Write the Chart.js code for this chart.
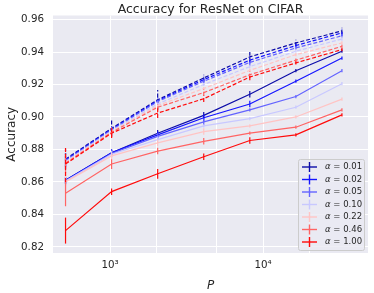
<!DOCTYPE html>
<html lang="en">
<head>
    <meta charset="UTF-8">
    <title>Accuracy for ResNet on CIFAR</title>
    <script src="https://cdn.jsdelivr.net/npm/chart.js"></script>
    <style>
        body { margin: 0; background: #ffffff; }
    </style>
</head>
<body>
    <canvas id="acc_chart" width="374" height="293"></canvas>
    <script>
        // training set sizes
        var P = [512, 1024, 2048, 4096, 8192, 16384, 32768];
        var alphas = ['0.01', '0.02', '0.05', '0.10', '0.22', '0.46', '1.00'];
        var yTicks = [0.82, 0.84, 0.86, 0.88, 0.90, 0.92, 0.94, 0.96];
        var xGrid = [1000, 2000, 5000, 10000, 20000];

        // solid curves, one row per alpha
        var accSolid = [
            [0.861, 0.878, 0.890, 0.901, 0.914, 0.9285, 0.9405],
            [0.861, 0.878, 0.889, 0.8995, 0.908, 0.922, 0.9363],
            [0.8605, 0.8775, 0.888, 0.897, 0.9044, 0.9126, 0.9285],
            [0.8605, 0.877, 0.886, 0.8945, 0.899, 0.906, 0.9205],
            [0.860, 0.876, 0.884, 0.891, 0.8945, 0.900, 0.911],
            [0.853, 0.871, 0.879, 0.885, 0.890, 0.8937, 0.9044],
            [0.830, 0.854, 0.865, 0.8755, 0.8855, 0.889, 0.9013]
        ];
        var errSolid = [
            [0.002, 0.002, 0.002, 0.002, 0.002, 0.001, 0.001],
            [0.002, 0.002, 0.002, 0.002, 0.002, 0.001, 0.001],
            [0.002, 0.002, 0.002, 0.002, 0.001, 0.001, 0.001],
            [0.003, 0.002, 0.002, 0.001, 0.001, 0.001, 0.001],
            [0.006, 0.002, 0.002, 0.002, 0.001, 0.001, 0.001],
            [0.008, 0.003, 0.002, 0.002, 0.001, 0.001, 0.001],
            [0.008, 0.002, 0.003, 0.002, 0.002, 0.001, 0.001]
        ];
        // dashed curves
        var accDashed = [
            [0.874, 0.893, 0.9106, 0.924, 0.937, 0.9456, 0.953],
            [0.8735, 0.8925, 0.910, 0.923, 0.935, 0.944, 0.9518],
            [0.873, 0.892, 0.9095, 0.922, 0.9336, 0.9425, 0.950],
            [0.8725, 0.8915, 0.908, 0.920, 0.931, 0.9405, 0.948],
            [0.872, 0.891, 0.907, 0.9175, 0.9287, 0.9384, 0.9456],
            [0.8715, 0.8905, 0.906, 0.915, 0.926, 0.935, 0.9435],
            [0.871, 0.890, 0.9024, 0.9112, 0.9246, 0.9333, 0.9415]
        ];
        var errDashed = [
            [0.006, 0.005, 0.006, 0.002, 0.003, 0.002, 0.002],
            [0.004, 0.002, 0.002, 0.002, 0.002, 0.001, 0.002],
            [0.003, 0.002, 0.002, 0.001, 0.002, 0.001, 0.001],
            [0.003, 0.002, 0.002, 0.001, 0.001, 0.001, 0.001],
            [0.004, 0.002, 0.002, 0.001, 0.001, 0.001, 0.001],
            [0.006, 0.003, 0.002, 0.002, 0.002, 0.001, 0.001],
            [0.011, 0.003, 0.003, 0.002, 0.002, 0.001, 0.001]
        ];

        var colors = ['#0c0ca8', '#1414ff', '#6464ff', '#c8c8ff', '#ffc4c4', '#ff6464', '#ff0a0a'];
        var textColor = '#262626';
        var dash = [4, 2];

        var datasets = [];
        alphas.forEach(function(a, i) {
            datasets.push({
                label: 'α = ' + a,
                data: P.map(function(p, j) { return { x: p, y: accSolid[i][j] }; }),
                err: errSolid[i],
                borderColor: colors[i],
                borderWidth: 1.2,
                pointRadius: 0,
                fill: false,
                order: 2 * (6 - i) + 1
            });
            datasets.push({
                label: 'α = ' + a + ' dashed',
                data: P.map(function(p, j) { return { x: p, y: accDashed[i][j] }; }),
                err: errDashed[i],
                borderColor: colors[i],
                borderWidth: 1.2,
                borderDash: dash,
                pointRadius: 0,
                fill: false,
                order: 2 * (6 - i)
            });
        });

        var bgPlugin = {
            id: 'bg',
            beforeDraw: function(chart) {
                var ca = chart.chartArea, ctx = chart.ctx;
                ctx.save();
                ctx.fillStyle = '#eaeaf2';
                ctx.fillRect(ca.left, ca.top, ca.right - ca.left, ca.bottom - ca.top);
                ctx.restore();
            }
        };

        // vertical error bars, drawn right after each line
        var errPlugin = {
            id: 'errbars',
            afterDatasetDraw: function(chart, args) {
                var ds = chart.data.datasets[args.index];
                var xs = chart.scales.x, ys = chart.scales.y, ctx = chart.ctx;
                ctx.save();
                ctx.strokeStyle = ds.borderColor;
                ctx.lineWidth = ds.borderWidth;
                ctx.setLineDash(ds.borderDash || []);
                ds.data.forEach(function(pt, j) {
                    var px = xs.getPixelForValue(pt.x);
                    ctx.beginPath();
                    ctx.moveTo(px, ys.getPixelForValue(pt.y - ds.err[j]));
                    ctx.lineTo(px, ys.getPixelForValue(pt.y + ds.err[j]));
                    ctx.stroke();
                });
                ctx.restore();
            }
        };

        var legendPlugin = {
            id: 'alphaLegend',
            afterDraw: function(chart) {
                var ctx = chart.ctx;
                var bx = 298, by = 159, bw = 66, bh = 91;
                ctx.save();
                ctx.setLineDash([]);
                ctx.fillStyle = 'rgba(234,234,242,0.8)';
                ctx.strokeStyle = '#cccccc';
                ctx.lineWidth = 1;
                ctx.beginPath();
                ctx.roundRect(bx + 0.5, by + 0.5, bw, bh, 2);
                ctx.fill();
                ctx.stroke();
                ctx.textBaseline = 'middle';
                alphas.forEach(function(a, i) {
                    var y = by + 8 + i * 12.5;
                    ctx.strokeStyle = colors[i];
                    ctx.lineWidth = 1.4;
                    ctx.beginPath();
                    ctx.moveTo(302, y);
                    ctx.lineTo(317, y);
                    ctx.stroke();
                    ctx.beginPath();
                    ctx.moveTo(309.5, y - 5);
                    ctx.lineTo(309.5, y + 5);
                    ctx.stroke();
                    ctx.fillStyle = textColor;
                    ctx.font = 'italic 8.5px "DejaVu Sans"';
                    ctx.fillText('α', 325, y);
                    var w = ctx.measureText('α').width;
                    ctx.font = '8.5px "DejaVu Sans"';
                    ctx.fillText(' = ' + a, 325 + w, y);
                });
                ctx.restore();
            }
        };

        var ctx = document.getElementById('acc_chart').getContext('2d');
        var chart = new Chart(ctx, {
            type: 'line',
            data: { datasets: datasets },
            plugins: [bgPlugin, errPlugin, legendPlugin],
            options: {
                responsive: false,
                animation: false,
                devicePixelRatio: 1,
                layout: { padding: { left: 0, right: 6, top: 0, bottom: 0 } },
                elements: { line: { tension: 0 } },
                plugins: {
                    legend: { display: false },
                    tooltip: { enabled: false },
                    title: {
                        display: true,
                        text: 'Accuracy for ResNet on CIFAR',
                        color: textColor,
                        font: { family: 'DejaVu Sans', size: 12.5, weight: 'normal', lineHeight: 1.0 },
                        padding: { top: 3, bottom: 0 },
                        fullSize: false
                    }
                },
                scales: {
                    x: {
                        type: 'logarithmic',
                        min: 424,
                        max: 48500,
                        afterBuildTicks: function(scale) {
                            scale.ticks = xGrid.map(function(v) { return { value: v }; });
                        },
                        afterFit: function(scale) { scale.height = 40; },
                        ticks: {
                            autoSkip: false,
                            maxRotation: 0,
                            padding: 6,
                            color: textColor,
                            font: { family: 'DejaVu Sans', size: 10.3 },
                            callback: function(v) {
                                if (v === 1000) return '10³';
                                if (v === 10000) return '10⁴';
                                return '';
                            }
                        },
                        grid: { color: '#ffffff', lineWidth: 1, drawTicks: false },
                        border: { display: false },
                        title: {
                            display: true,
                            text: 'P',
                            color: textColor,
                            font: { family: 'DejaVu Sans', size: 12, style: 'italic' },
                            padding: { top: 6.8, bottom: 0 }
                        }
                    },
                    y: {
                        min: 0.8162,
                        max: 0.9625,
                        afterBuildTicks: function(scale) {
                            scale.ticks = yTicks.map(function(v) { return { value: v }; });
                        },
                        afterFit: function(scale) { scale.width = 53; },
                        ticks: {
                            padding: 9,
                            color: textColor,
                            font: { family: 'DejaVu Sans', size: 10.3 },
                            callback: function(v) { return v.toFixed(2); }
                        },
                        grid: { color: '#ffffff', lineWidth: 1, drawTicks: false },
                        border: { display: false },
                        title: {
                            display: true,
                            text: 'Accuracy',
                            color: textColor,
                            font: { family: 'DejaVu Sans', size: 12 },
                            padding: { top: 4.5, bottom: 0 }
                        }
                    }
                }
            }
        });
    </script>
</body>
</html>
